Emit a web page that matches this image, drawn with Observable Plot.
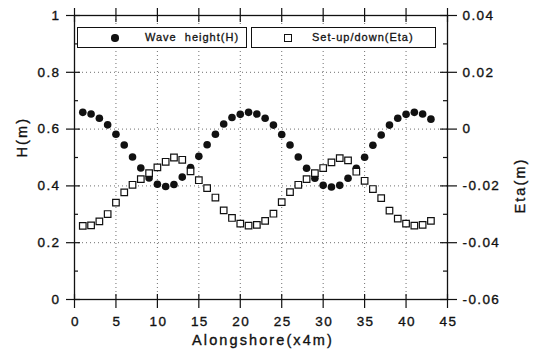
<!DOCTYPE html>
<html>
<head>
<meta charset="utf-8">
<script src="https://cdn.jsdelivr.net/npm/d3@7"></script>
<script src="https://cdn.jsdelivr.net/npm/@observablehq/plot@0.6"></script>
<style>
  html, body { margin: 0; padding: 0; background: #fff; }
  #wrap { position: relative; width: 533px; height: 359px; font-family: "Liberation Sans", Arial, sans-serif; }
  #wrap svg text { font-family: "Liberation Sans", Arial, sans-serif; stroke: #111; stroke-width: 0.35px; }
  .lg { position: absolute; top: 27px; height: 21px; border: 1px solid #111; background: #fff; box-sizing: border-box; }
  .lg span.t { position: absolute; top: 3px; font-size: 11px; letter-spacing: 1px; color: #111; white-space: pre; -webkit-text-stroke: 0.3px #111; }
  .lg span.dot { position: absolute; top: 6px; width: 7.5px; height: 7.5px; border-radius: 50%; background: #111; }
  .lg span.sq { position: absolute; top: 6px; width: 6px; height: 6px; border: 1.2px solid #111; background: #fff; }
</style>
</head>
<body>
<div id="wrap"></div>
<script>
// ---- data ----
const alongshore = [1,2,3,4,5,6,7,8,9,10,11,12,13,14,15,16,17,18,19,20,21,22,23,24,25,26,27,28,29,30,31,32,33,34,35,36,37,38,39,40,41,42,43];
const waveHeight = [0.659,0.653,0.638,0.615,0.582,0.544,0.502,0.463,0.428,0.406,0.398,0.405,0.431,0.465,0.504,0.545,0.582,0.618,0.641,0.652,0.659,0.653,0.638,0.614,0.581,0.544,0.502,0.462,0.427,0.402,0.396,0.402,0.427,0.462,0.501,0.543,0.579,0.614,0.638,0.652,0.659,0.653,0.635];
const setupEta = [-0.0341,-0.0339,-0.0325,-0.0299,-0.0259,-0.0223,-0.0196,-0.0176,-0.0155,-0.0135,-0.0115,-0.0100,-0.0108,-0.0149,-0.0180,-0.0208,-0.0241,-0.0286,-0.0313,-0.0333,-0.0340,-0.0337,-0.0323,-0.0298,-0.0257,-0.0222,-0.0196,-0.0176,-0.0155,-0.0137,-0.0117,-0.0102,-0.0110,-0.0150,-0.0182,-0.0211,-0.0243,-0.0287,-0.0315,-0.0333,-0.0340,-0.0337,-0.0323];
const xTicks = [0,5,10,15,20,25,30,35,40,45];
const hTicks = [0,0.2,0.4,0.6,0.8,1];
const hMinorTicks = [0.1,0.3,0.5,0.7,0.9];
const hTickLabels = ["0","0.2","0.4","0.6","0.8","1"];
const etaTickLabels = ["-0.06","-0.04","-0.02","0","0.02","0.04"];
const etaDomain = [-0.06, 0.04];
const xTitle = "Alongshore(x4m)";
const hTitle = "H(m)";
const etaTitle = "Eta(m)";
const legendLabels = ["Wave  height(H)", "Set-up/down(Eta)"];

// ---- layout ----
const W = 533, H = 359, mL = 74, mR = 86, mT = 15, mB = 60;
const iW = W - mL - mR, iH = H - mT - mB;
const etaToH = e => (e - etaDomain[0]) / (etaDomain[1] - etaDomain[0]);

const hRows = alongshore.map((x, i) => ({x, v: waveHeight[i]}));
const eRows = alongshore.map((x, i) => ({x, v: setupEta[i]}));

const chart = Plot.plot({
  width: W, height: H,
  marginLeft: mL, marginRight: mR, marginTop: mT, marginBottom: mB,
  x: {domain: [0, 45], axis: null},
  y: {domain: [0, 1], axis: null},
  style: {background: "#fff", color: "#111"},
  marks: [
    Plot.gridX(xTicks.slice(1, -1), {stroke: "#222", strokeOpacity: 0.65, strokeDasharray: "1,3"}),
    Plot.gridY(hTicks.slice(1, -1), {stroke: "#222", strokeOpacity: 0.65, strokeDasharray: "1,3"}),
    Plot.frame({stroke: "#111", strokeWidth: 1.3}),
    // ticks
    Plot.tickX(xTicks, {x: d => d, insetTop: iH - 5, insetBottom: -9, stroke: "#111", strokeWidth: 1.2}),
    Plot.tickX(xTicks, {x: d => d, insetTop: -7, insetBottom: iH - 7, stroke: "#111", strokeWidth: 1.2}),
    Plot.tickY(hTicks, {y: d => d, insetLeft: -8, insetRight: iW - 6, stroke: "#111", strokeWidth: 1.2}),
    Plot.tickY(hMinorTicks, {y: d => d, insetLeft: 0, insetRight: iW - 4, stroke: "#111", strokeWidth: 1.2}),
    Plot.tickY(hTicks, {y: d => d, insetLeft: iW - 7, insetRight: -10, stroke: "#111", strokeWidth: 1.2}),
    Plot.tickY(hMinorTicks, {y: d => d, insetLeft: iW - 4, insetRight: 0, stroke: "#111", strokeWidth: 1.2}),
    // tick labels
    Plot.text(xTicks, {x: d => d, frameAnchor: "bottom", dy: 26, dx: 1, text: d => String(d), fontSize: 13.5, fill: "#111"}),
    Plot.text(hTicks, {y: d => d, frameAnchor: "left", dx: -14, textAnchor: "end", text: (d, i) => hTickLabels[i], fontSize: 13.5, fill: "#111"}),
    Plot.text(hTicks, {y: d => d, frameAnchor: "right", dx: 15, textAnchor: "start", text: (d, i) => etaTickLabels[i], fontSize: 13.5, fill: "#111"}),
    // titles
    Plot.text([xTitle], {frameAnchor: "bottom", dy: 45, dx: 2, text: d => d, fontSize: 14.5, fill: "#111"}),
    Plot.text([hTitle], {frameAnchor: "left", dx: -52, rotate: -90, text: d => d, fontSize: 14.5, fill: "#111"}),
    Plot.text([etaTitle], {frameAnchor: "right", dx: 73, rotate: -90, text: d => d, fontSize: 14.5, fill: "#111"}),
    // data
    Plot.dot(hRows, {x: "x", y: "v", r: 3.8, fill: "#111", stroke: "none"}),
    Plot.dot(eRows, {x: "x", y: d => etaToH(d.v), symbol: "square", r: 3.7, fill: "#fff", stroke: "#111", strokeWidth: 1.2})
  ]
});

// letter spacing as in the scanned original
const titles = new Set([xTitle, hTitle, etaTitle]);
d3.select(chart).selectAll("text").each(function () {
  const t = this.textContent;
  this.style.letterSpacing = titles.has(t) ? "2.1px" : "1.4px";
});

const wrap = document.getElementById("wrap");
wrap.appendChild(chart);

// legend overlay (inside plot, at top)
const lg1 = document.createElement("div");
lg1.className = "lg";
lg1.style.left = "77px"; lg1.style.width = "170px";
lg1.innerHTML = `<span class="dot" style="left:33px"></span><span class="t" style="left:67px">${legendLabels[0]}</span>`;
const lg2 = document.createElement("div");
lg2.className = "lg";
lg2.style.left = "251px"; lg2.style.width = "185px";
lg2.innerHTML = `<span class="sq" style="left:32px"></span><span class="t" style="left:60px">${legendLabels[1]}</span>`;
wrap.appendChild(lg1);
wrap.appendChild(lg2);
</script>
</body>
</html>
